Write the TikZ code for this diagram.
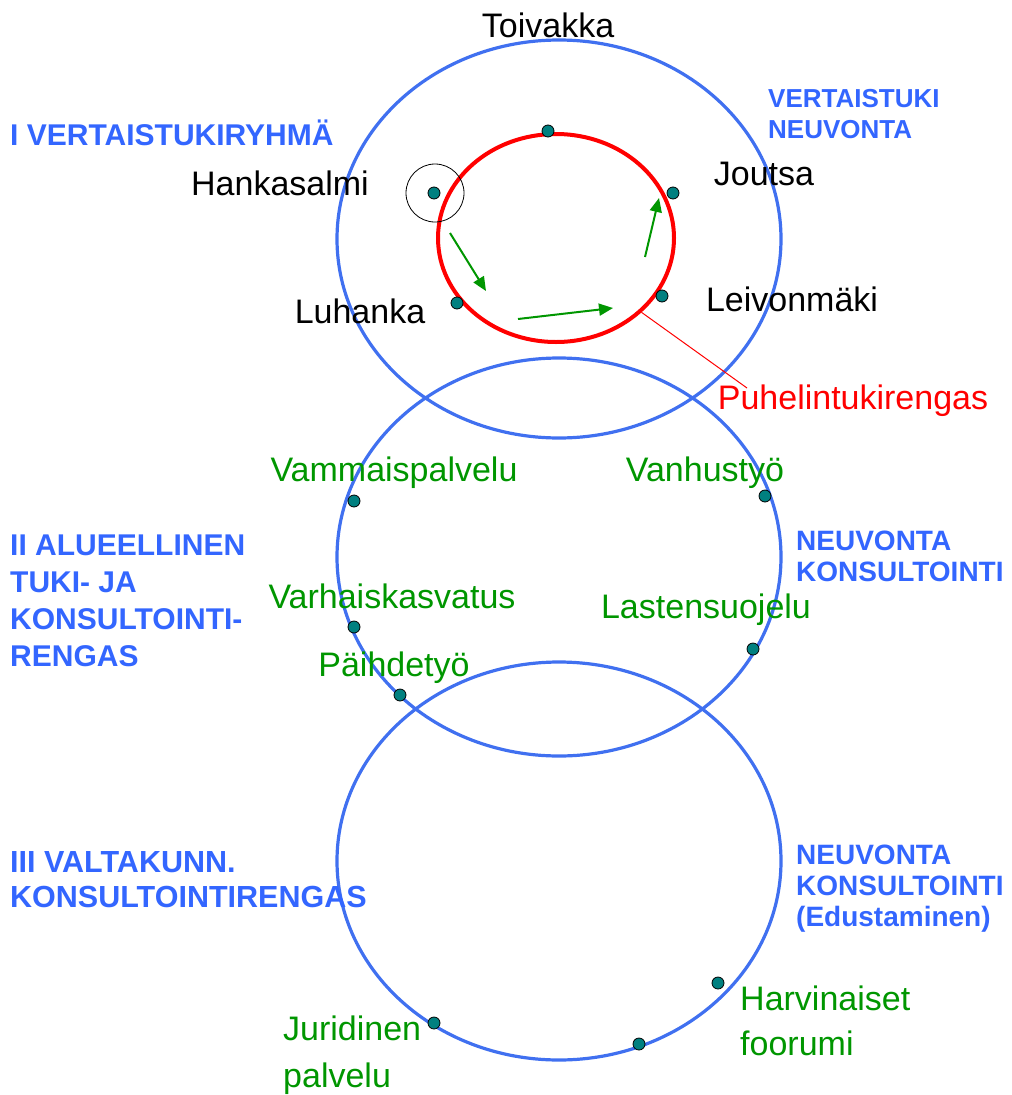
\documentclass[tikz,border=0pt]{standalone}
\usepackage{fontspec}
\setmainfont{Liberation Sans}
\usetikzlibrary{arrows.meta,shapes.geometric}
\definecolor{ringblue}{RGB}{64,112,240}
\definecolor{levelblue}{RGB}{51,102,255}
\definecolor{unitgreen}{RGB}{0,150,0}
\definecolor{dotteal}{RGB}{0,128,128}
\tikzset{%
  % rings
  ring/.style={draw=ringblue, ellipse, line width=3.2pt, inner sep=0pt, minimum width=444pt, minimum height=398pt},
  phonering/.style={draw=red, ellipse, line width=4pt, inner sep=0pt},
  member/.style={circle, draw=black, fill=dotteal, line width=0.8pt, minimum size=12pt, inner sep=0pt},
  % texts
  place/.style={font=\fontsize{34}{40}\selectfont, inner sep=0pt},
  unit/.style={place, text=unitgreen},
  level/.style={font=\fontsize{28}{31}\selectfont\bfseries, text=levelblue, align=left, inner sep=0pt},
  % edge styles
  pass/.style={-{Triangle[length=14pt,width=12pt]}, draw=unitgreen, line width=2pt},
  pointer/.style={draw=red, line width=1pt},
}

\begin{document}
\begin{tikzpicture}[x=1pt, y=-1pt]
  \useasboundingbox (0,0) rectangle (1012,1095);

  % the three rings
  \node[ring] (ringone) at (559,239) {};
  \node[ring] (ringtwo) at (559,557) {};
  \node[ring] (ringthree) at (559,861) {};
  \node[phonering, minimum width=236pt, minimum height=208pt] (phone) at (556,238) {};
  \node[circle, draw=black, line width=0.8pt, minimum size=58pt, inner sep=0pt] (hankring) at (435,193) {};

  % members of ring I
  \node[member] (toivakkadot) at (548,131) {};
  \node[member] (hankasalmidot) at (434,193) {};
  \node[member] (joutsadot) at (673,193) {};
  \node[member] (luhankadot) at (457,303) {};
  \node[member] (leivonmakidot) at (662,296) {};

  \node[place, anchor=base] (toivakka) at (548,37) {Toivakka};
  \node[place, anchor=base] (hankasalmi) at (280,195) {Hankasalmi};
  \node[place, anchor=base] (joutsa) at (764,185) {Joutsa};
  \node[place, anchor=base] (luhanka) at (360,323) {Luhanka};
  \node[place, anchor=base] (leivonmaki) at (792,311) {Leivonmäki};
  \node[place, text=red, anchor=base] (puhelin) at (853,409) {Puhelintukirengas};

  % members of ring II
  \node[member] (vammaisdot) at (354,501) {};
  \node[member] (vanhusdot) at (765,496) {};
  \node[member] (varhaisdot) at (354,627) {};
  \node[member] (lastendot) at (753,649) {};
  \node[member] (paihdedot) at (400,695) {};

  \node[unit, anchor=base] (vammais) at (394,481) {Vammaispalvelu};
  \node[unit, anchor=base] (vanhus) at (705,481) {Vanhustyö};
  \node[unit, anchor=base] (varhais) at (392,608) {Varhaiskasvatus};
  \node[unit, anchor=base] (lasten) at (706,618) {Lastensuojelu};
  \node[unit, anchor=base] (paihde) at (394,676) {Päihdetyö};

  % members of ring III
  \node[member] (harvinaisetdot) at (718,983) {};
  \node[member] (middledot) at (639,1044) {};
  \node[member] (juridinendot) at (434,1023) {};

  % (base of a two-line node = its last line)
  \node[unit, anchor=base west, align=left, font=\fontsize{34}{47}\selectfont] (juridinen) at (283,1087) {Juridinen\\palvelu};
  \node[unit, anchor=base west, align=left, font=\fontsize{34}{45}\selectfont] (harvinaiset) at (740,1055) {Harvinaiset\\foorumi};

  % level titles
  \node[level, anchor=base west, font=\fontsize{30}{31}\selectfont\bfseries] (levelone) at (10,145) {I VERTAISTUKIRYHMÄ};
  \node[level, anchor=base west, font=\fontsize{26}{31}\selectfont\bfseries] (aimone) at (768,138) {VERTAISTUKI\\NEUVONTA};
  \node[level, anchor=base west, font=\fontsize{30}{37}\selectfont\bfseries] (leveltwo) at (10,666) {II ALUEELLINEN\\TUKI- JA\\KONSULTOINTI-\\RENGAS};
  \node[level, anchor=base west] (aimtwo) at (796,581) {NEUVONTA\\KONSULTOINTI};
  \node[level, anchor=base west, font=\fontsize{30.5}{35}\selectfont\bfseries] (levelthree) at (10,907) {III VALTAKUNN.\\KONSULTOINTIRENGAS};
  \node[level, anchor=base west] (aimthree) at (796,926) {NEUVONTA\\KONSULTOINTI\\(Edustaminen)};

  % passing round the phone ring
  \coordinate (passa) at (450,233);
  \coordinate (passb) at (486,291);
  \coordinate (passc) at (518,319);
  \coordinate (passd) at (613,308);
  \coordinate (passe) at (645,257);
  \coordinate (passf) at (659,198);
  \draw[pass] (passa) -- (passb);
  \draw[pass] (passc) -- (passd);
  \draw[pass] (passe) -- (passf);

  \coordinate (pointerend) at (747,388);
  \draw[pointer] (phone.-41.5) -- (pointerend);
\end{tikzpicture}
\end{document}
